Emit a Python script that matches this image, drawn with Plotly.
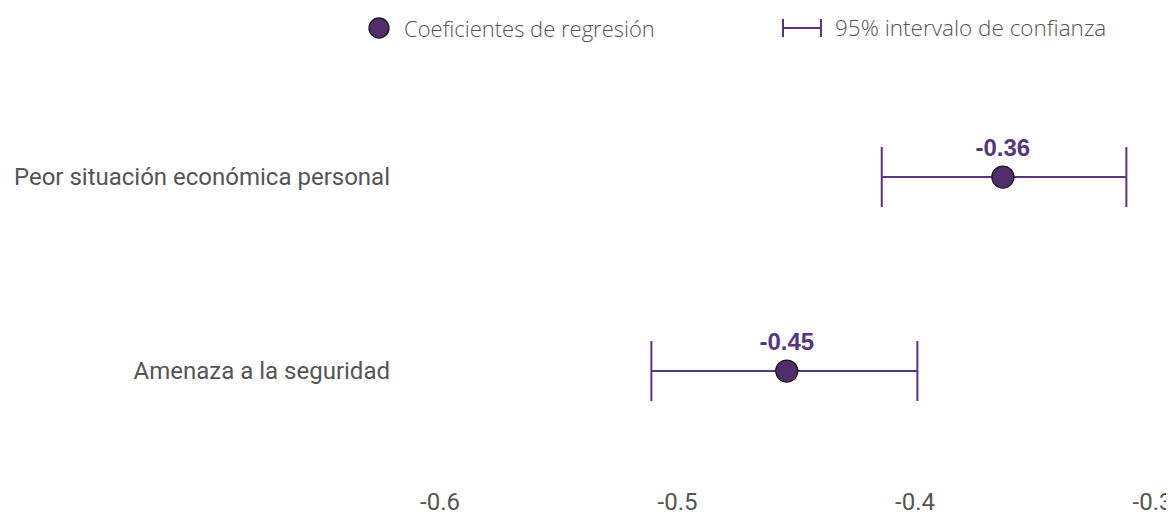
import plotly.graph_objects as go

categories = ["Peor situación económica personal", "Amenaza a la seguridad"]
coef = [-0.363, -0.454]
ci_low = [-0.414, -0.511]
ci_high = [-0.311, -0.399]
tick_vals = [-0.6, -0.5, -0.4, -0.3]
tick_text = ["-0.6", "-0.5", "-0.4", "-0.3"]
legend_labels = ["Coeficientes de regresión", "95% intervalo de confianza"]

PURPLE = "#57357f"
DOT = "#512d6e"
GRAY = "#555555"

# page body offset (px) compensation
OFF = 8
L, R, T, B = 410 - OFF, 1174 - OFF, 60 - OFF, 470 - OFF
W, H = R - L, B - T
PX = 2375.0  # px per data unit on x

err_plus = [h - c for h, c in zip(ci_high, coef)]
err_minus = [c - l for c, l in zip(coef, ci_low)]
labels = [f"{c:.2f}" for c in coef]

fig = go.Figure()
fig.add_trace(go.Scatter(
    x=coef, y=categories, mode="markers+text",
    text=labels, textposition="top center",
    textfont=dict(family="Liberation Sans", size=24, color=PURPLE, weight="bold"),
    marker=dict(size=22, color=DOT, line=dict(color="#1a1a1a", width=1.3)),
    error_x=dict(type="data", symmetric=False, array=err_plus, arrayminus=err_minus,
                 color=PURPLE, thickness=2, width=30),
    showlegend=False, cliponaxis=False, hoverinfo="skip",
))

def px_x(sx):
    return (sx - OFF - L) / W

def px_y(sy):
    return (B - (sy - OFF)) / H

# Manual legend (paper coordinates, pixel-sized icons)
legend_font = dict(family="Open Sans", size=22, color=GRAY, weight=300)
ly = px_y(28)
fig.add_shape(type="circle", xref="paper", yref="paper",
              xsizemode="pixel", ysizemode="pixel",
              xanchor=px_x(379), yanchor=ly,
              x0=-10, x1=10, y0=-10, y1=10,
              fillcolor=DOT, line=dict(color="#1a1a1a", width=1.3))
fig.add_annotation(xref="paper", yref="paper",
                   x=px_x(402), y=ly,
                   text=legend_labels[0], showarrow=False,
                   xanchor="left", yanchor="middle", font=legend_font)
lx0, lx1 = px_x(783), px_x(821)
cap = 9 / H
fig.add_shape(type="line", xref="paper", yref="paper", x0=lx0, x1=lx1, y0=ly, y1=ly,
              line=dict(color=PURPLE, width=2))
fig.add_shape(type="line", xref="paper", yref="paper", x0=lx0, x1=lx0, y0=ly - cap, y1=ly + cap,
              line=dict(color=PURPLE, width=2))
fig.add_shape(type="line", xref="paper", yref="paper", x0=lx1, x1=lx1, y0=ly - cap, y1=ly + cap,
              line=dict(color=PURPLE, width=2))
fig.add_annotation(xref="paper", yref="paper",
                   x=px_x(833), y=ly,
                   text=legend_labels[1], showarrow=False,
                   xanchor="left", yanchor="middle",
                   font=dict(family="Open Sans", size=22.5, color=GRAY, weight=300))

fig.update_layout(
    width=1174, height=515,
    margin=dict(l=L, r=1174 - R, t=T, b=515 - B, autoexpand=False),
    plot_bgcolor="white", paper_bgcolor="white",
    showlegend=False,
    xaxis=dict(range=[-0.6 - 30 / PX, -0.6 + (W - 30) / PX],
               tickvals=tick_vals, ticktext=tick_text,
               showgrid=False, zeroline=False, showline=False, automargin=False,
               tickfont=dict(family="Roboto", size=24, color=GRAY),
               ticklabelstandoff=15),
    yaxis=dict(type="category", categoryorder="array",
               categoryarray=categories[::-1],
               range=[-0.51, -0.51 + H / 194.0],
               showgrid=False, zeroline=False, showline=False, automargin=False,
               tickfont=dict(family="Roboto", size=24, color=GRAY),
               ticklabelstandoff=19),
)

fig.write_html("out.html")
